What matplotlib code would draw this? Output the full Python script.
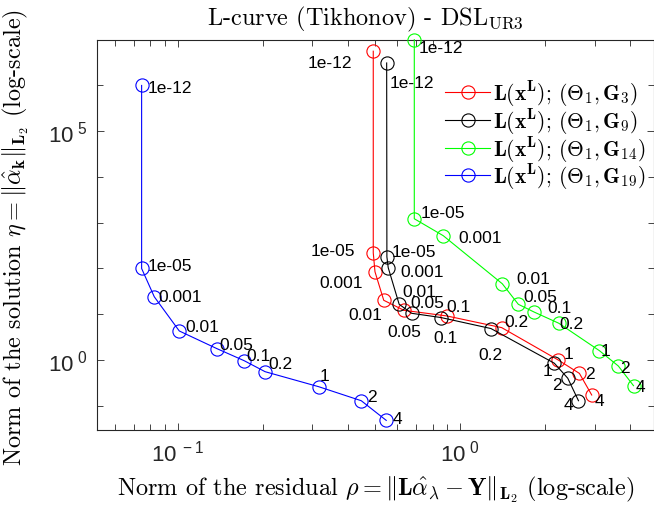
import matplotlib
matplotlib.use("Agg")
import matplotlib.pyplot as plt
from matplotlib.ticker import FixedLocator, LogLocator, NullFormatter, FixedFormatter

# regularisation parameters used as point labels
lambdas = ['1e-12', '1e-05', '0.001', '0.01', '0.05', '0.1', '0.2', '1', '2', '4']

# residual norm (x) and solution norm (y) for each grid
rho_g3 = [0.493, 0.493, 0.500, 0.537, 0.633, 0.897, 1.406, 2.23, 2.65, 2.93]
eta_g3 = [5.6e6, 220, 84.7, 20.2, 12.2, 9.2, 5.1, 1.0, 0.51, 0.172]

rho_g9 = [0.55, 0.551, 0.557, 0.609, 0.674, 0.857, 1.288, 2.16, 2.41, 2.63]
eta_g9 = [3.1e6, 180, 104, 16.5, 10.5, 8.47, 4.87, 0.85, 0.40, 0.129]

rho_g14 = [0.689, 0.689, 0.873, 1.413, 1.61, 1.83, 2.24, 3.12, 3.64, 4.12]
eta_g14 = [1.0e7, 1222, 520, 46.3, 16.5, 11.2, 6.36, 1.6, 0.74, 0.275]

rho_g19 = [0.0745, 0.0745, 0.0826, 0.1013, 0.1375, 0.172, 0.204, 0.316, 0.447, 0.548]
eta_g19 = [1e6, 100, 24.1, 4.31, 1.78, 0.966, 0.556, 0.261, 0.129, 0.048]

plt.rcParams['mathtext.fontset'] = 'custom'
plt.rcParams['mathtext.rm'] = 'Liberation Sans'
plt.rcParams['mathtext.it'] = 'Liberation Sans:italic'
plt.rcParams['mathtext.bf'] = 'Liberation Sans:bold'
plt.rcParams['font.family'] = 'Liberation Sans'

fig = plt.figure(figsize=(6.54, 5.06), dpi=100)
ax = fig.add_axes([0.1488, 0.1488, 0.8512, 0.7708])

# label offsets in pixels (dx, dy downwards, alignment) per point
off_g3 = [(-21, 11, 'right'), (-18, -2, 'right'), (-12, 11, 'right'), (-1, 14, 'right'),
          (6, -8, 'left'), (0, -9, 'left'), (3, -6, 'left'), (5, -7, 'left'),
          (6, 0, 'left'), (3, 5, 'left')]
off_g9 = [(3, 20, 'left'), (5, -5, 'left'), (12, 4, 'left'), (3, -13, 'left'),
          (-7, 18, 'center'), (4, 20, 'center'), (-1, 26, 'center'), (-2, 7, 'right'),
          (-6, 6, 'right'), (-5, 4, 'right')]
off_g14 = [(4, 8, 'left'), (6, -6, 'left'), (15, 2, 'left'), (14, -5, 'left'),
           (5, -8, 'left'), (13, -5, 'left'), (1, 0, 'left'), (1, 0, 'left'),
           (2, 1, 'left'), (2, 1, 'left')]
off_g19 = [(6, 2, 'left'), (6, -3, 'left'), (4, 0, 'left'), (6, -4, 'left'),
           (3, -4, 'left'), (2, -5, 'left'), (3, -8, 'left'), (1, -11, 'left'),
           (6, -4, 'left'), (6, -2, 'left')]

series = [
    (rho_g3, eta_g3, 'red', r'$\mathbf{L}(\mathbf{x}^{\mathbf{L}});\,(\mathbf{\Theta}_{\mathbf{1}},\mathbf{G}_{\mathbf{3}})$', off_g3),
    (rho_g9, eta_g9, 'black', r'$\mathbf{L}(\mathbf{x}^{\mathbf{L}});\,(\mathbf{\Theta}_{\mathbf{1}},\mathbf{G}_{\mathbf{9}})$', off_g9),
    (rho_g14, eta_g14, '#00ff00', r'$\mathbf{L}(\mathbf{x}^{\mathbf{L}});\,(\mathbf{\Theta}_{\mathbf{1}},\mathbf{G}_{\mathbf{14}})$', off_g14),
    (rho_g19, eta_g19, 'blue', r'$\mathbf{L}(\mathbf{x}^{\mathbf{L}});\,(\mathbf{\Theta}_{\mathbf{1}},\mathbf{G}_{\mathbf{19}})$', off_g19),
]

for rho, eta, col, lab, offs in series:
    ax.plot(rho, eta, '-o', color=col, mfc='none', mec=col, ms=9.5, lw=0.8,
            mew=0.8, label=lab, clip_on=False, zorder=3)
    for xv, yv, txt, (dx, dy, ha) in zip(rho, eta, lambdas, offs):
        ax.annotate(txt, (xv, yv), xytext=(dx, -dy), textcoords='offset pixels',
                    ha=ha, va='center', fontsize=12.5, color='black')

ax.set_xscale('log')
ax.set_yscale('log')
ax.set_xlim(0.0519, 4.87)
ax.set_ylim(0.03, 1.0e7)

ax.xaxis.set_major_locator(FixedLocator([0.1, 1.0]))
ax.xaxis.set_major_formatter(FixedFormatter([r'$10^{\ -1}$', r'$10^{\ 0}$']))
ax.xaxis.set_minor_locator(LogLocator(base=10, subs=(2, 3, 4, 5, 6, 7, 8, 9), numticks=20))
ax.xaxis.set_minor_formatter(NullFormatter())
ax.yaxis.set_major_locator(FixedLocator([1.0, 1e5]))
ax.yaxis.set_major_formatter(FixedFormatter([r'$10^{\ 0}$', r'$10^{\ 5}$']))
ax.yaxis.set_minor_locator(FixedLocator([10.0 ** k for k in range(-1, 8)]))
ax.yaxis.set_minor_formatter(NullFormatter())

ax.tick_params(which='both', direction='in', top=True, right=True, colors='0.15',
               labelsize=16, width=0.6)
ax.tick_params(which='major', length=5, pad=7)
ax.tick_params(which='minor', length=4)
for sp in ax.spines.values():
    sp.set_color('0.15')
    sp.set_linewidth(0.8)

xl = ax.set_xlabel(r'Norm of the residual $\rho = \|\mathbf{L}\hat{\alpha}_{\lambda} - \mathbf{Y}\|_{\mathbf{L_2}}$ (log-scale)',
                   fontsize=17.5, fontfamily='cmr10')
xl.set_math_fontfamily('cm')
ax.xaxis.set_label_coords(0.5, -0.113)
yl = ax.set_ylabel(r'Norm of the solution $\eta = \|\hat{\alpha}_{\mathbf{k}}\|_{\mathbf{L_2}}$ (log-scale)',
                   fontsize=17.5, fontfamily='cmr10')
yl.set_math_fontfamily('cm')
ax.yaxis.set_label_coords(-0.12, 0.495)

tt = ax.text(0.197, 1.040, r'L-curve (Tikhonov) - DSL$_{\mathrm{UR3}}$', transform=ax.transAxes,
             ha='left', va='baseline', fontsize=17.5, fontfamily='cmr10')
tt.set_math_fontfamily('cm')

leg = ax.legend(loc='upper left', bbox_to_anchor=(0.6246, 0.9), frameon=False,
                borderpad=0, borderaxespad=0, handlelength=2.1, handletextpad=0.15,
                labelspacing=-0.1, fontsize=15.5)
for t in leg.get_texts():
    t.set_math_fontfamily('cm')

fig.savefig('out.png', dpi=100)
